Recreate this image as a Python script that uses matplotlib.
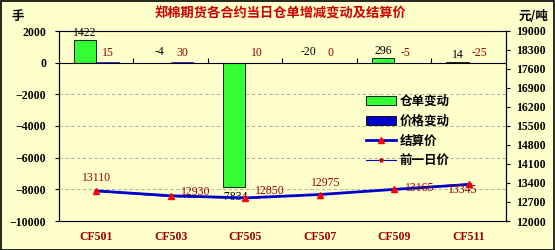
import numpy as np
import matplotlib
matplotlib.use('Agg')
import matplotlib.pyplot as plt
from matplotlib.patches import Patch
from matplotlib.lines import Line2D

plt.rcParams['font.family'] = ['Liberation Serif', 'Noto Sans CJK SC']

# данные
contracts = ['CF501', 'CF503', 'CF505', 'CF507', 'CF509', 'CF511']
receipt_change = [1422, -4, -7834, -20, 296, 14]
price_change = [15, 30, 10, 0, -5, -25]
settle_price = [13110, 12930, 12850, 12975, 13165, 13345]
prev_price = [13095, 12900, 12840, 12975, 13170, 13370]

# смещения подписей цены (в пунктах)
price_offsets = [(0, 9), (18, 3), (18, 5), (4, 8), (18, 1), (-4, -4)]

bg = '#FFFFCC'
dark_red = '#990000'
x = np.arange(len(contracts))
w = 0.3

fig = plt.figure(figsize=(5.55, 2.5), dpi=100, facecolor=bg)
ax1 = fig.add_axes([0.1063, 0.116, 0.8054, 0.76])
ax1.set_facecolor(bg)
ax2 = ax1.twinx()

ax1.bar(x - w / 2, receipt_change, w, color='#33FF33', edgecolor='black', linewidth=0.6, zorder=3)
ax1.bar(x + w / 2, price_change, w, color='#0000CC', edgecolor='#0000CC', linewidth=0.4, zorder=3)

for xi, v in zip(x, receipt_change):
    y = v + 60 if v >= 0 else v - 250
    va = 'bottom' if v >= 0 else 'top'
    if v < 0 and v > -500:
        y, va = 300, 'bottom'
    ax1.text(xi - w / 2, y, str(v), ha='center', va=va, fontsize=8.5, color='black', zorder=5)
for xi, v in zip(x, price_change):
    ax1.text(xi + w / 2, 600, str(v), ha='center', va='center', fontsize=8.5, color=dark_red, zorder=5)

ax1.set_xlim(-0.5, len(contracts) - 0.5)
ax1.set_ylim(-10000, 2000)
ax1.set_yticks(np.arange(-10000, 2001, 2000))
ax1.yaxis.grid(True, color='#A0A0A0', linestyle=(0, (4, 3)), linewidth=0.6, zorder=0)
ax1.axhline(0, color='black', linewidth=0.8, zorder=4)
ax1.vlines(x[1:] - 0.5, 0, 300, color='black', linewidth=0.8, zorder=4)

ax1.set_xticks(x)
ax1.set_xticklabels(contracts, color=dark_red, fontweight='bold', fontsize=8.5)
ax1.tick_params(axis='x', length=0, pad=7)
ax1.tick_params(axis='y', labelsize=8.5, length=3, direction='out', pad=6)
for lab in ax1.get_yticklabels():
    lab.set_fontweight('bold')

ax2.plot(x, prev_price, color='#0000CC', linewidth=0.8, marker='*', markersize=3,
         markerfacecolor='#CC0000', markeredgecolor='#CC0000', zorder=5)
ax2.plot(x, settle_price, color='#0000CC', linewidth=2, marker='^', markersize=5,
         markerfacecolor='#FF0000', markeredgecolor='#FF0000', zorder=6)
for xi, v, off in zip(x, settle_price, price_offsets):
    ax2.annotate(str(v), (xi, v), xytext=off, textcoords='offset points',
                 ha='center', va='center', fontsize=8.5, color=dark_red, zorder=7)
ax2.set_ylim(12000, 19000)
ax2.set_yticks(np.arange(12000, 19001, 700))
ax2.tick_params(axis='y', labelsize=8.5, length=3, direction='out', pad=4)
for lab in ax2.get_yticklabels():
    lab.set_fontweight('bold')

for ax in (ax1, ax2):
    for s in ax.spines.values():
        s.set_linewidth(0.8)
        s.set_color('black')
ax1.spines['bottom'].set_color('#808080')
ax1.spines['top'].set_color('#808080')

handles = [
    Patch(facecolor='#33FF33', edgecolor='black', linewidth=0.6, label='仓单变动'),
    Patch(facecolor='#0000CC', edgecolor='black', linewidth=0.6, label='价格变动'),
    Line2D([], [], color='#0000CC', linewidth=2, marker='^', markersize=5,
           markerfacecolor='#FF0000', markeredgecolor='#FF0000', label='结算价'),
    Line2D([], [], color='#0000CC', linewidth=0.8, marker='*', markersize=3,
           markerfacecolor='#CC0000', markeredgecolor='#CC0000', label='前一日价'),
]
ax2.legend(handles=handles, loc='upper left', bbox_to_anchor=(0.675, 0.69), frameon=False,
           prop={'family': ['Noto Sans CJK SC'], 'weight': 'bold', 'size': 9},
           handlelength=2.4, handleheight=0.7, labelspacing=0.55, handletextpad=0.3,
           borderaxespad=0)

fig.text(0.505, 0.945, '郑棉期货各合约当日仓单增减变动及结算价', ha='center', va='center',
         color='#CC0000', fontsize=9.5, fontweight='bold', family=['Noto Sans CJK SC'])
fig.text(0.02, 0.935, '手', ha='left', va='center', fontsize=9, fontweight='bold',
         family=['Noto Sans CJK SC'])
fig.text(0.988, 0.935, '元/吨', ha='right', va='center', fontsize=9, fontweight='bold',
         family=['Noto Sans CJK SC'])

border = plt.Rectangle((0.001, 0.002), 0.997, 0.995, transform=fig.transFigure,
                       fill=False, edgecolor='black', linewidth=1.2)
fig.patches.append(border)

fig.savefig('out.png', dpi=100, facecolor=bg)
